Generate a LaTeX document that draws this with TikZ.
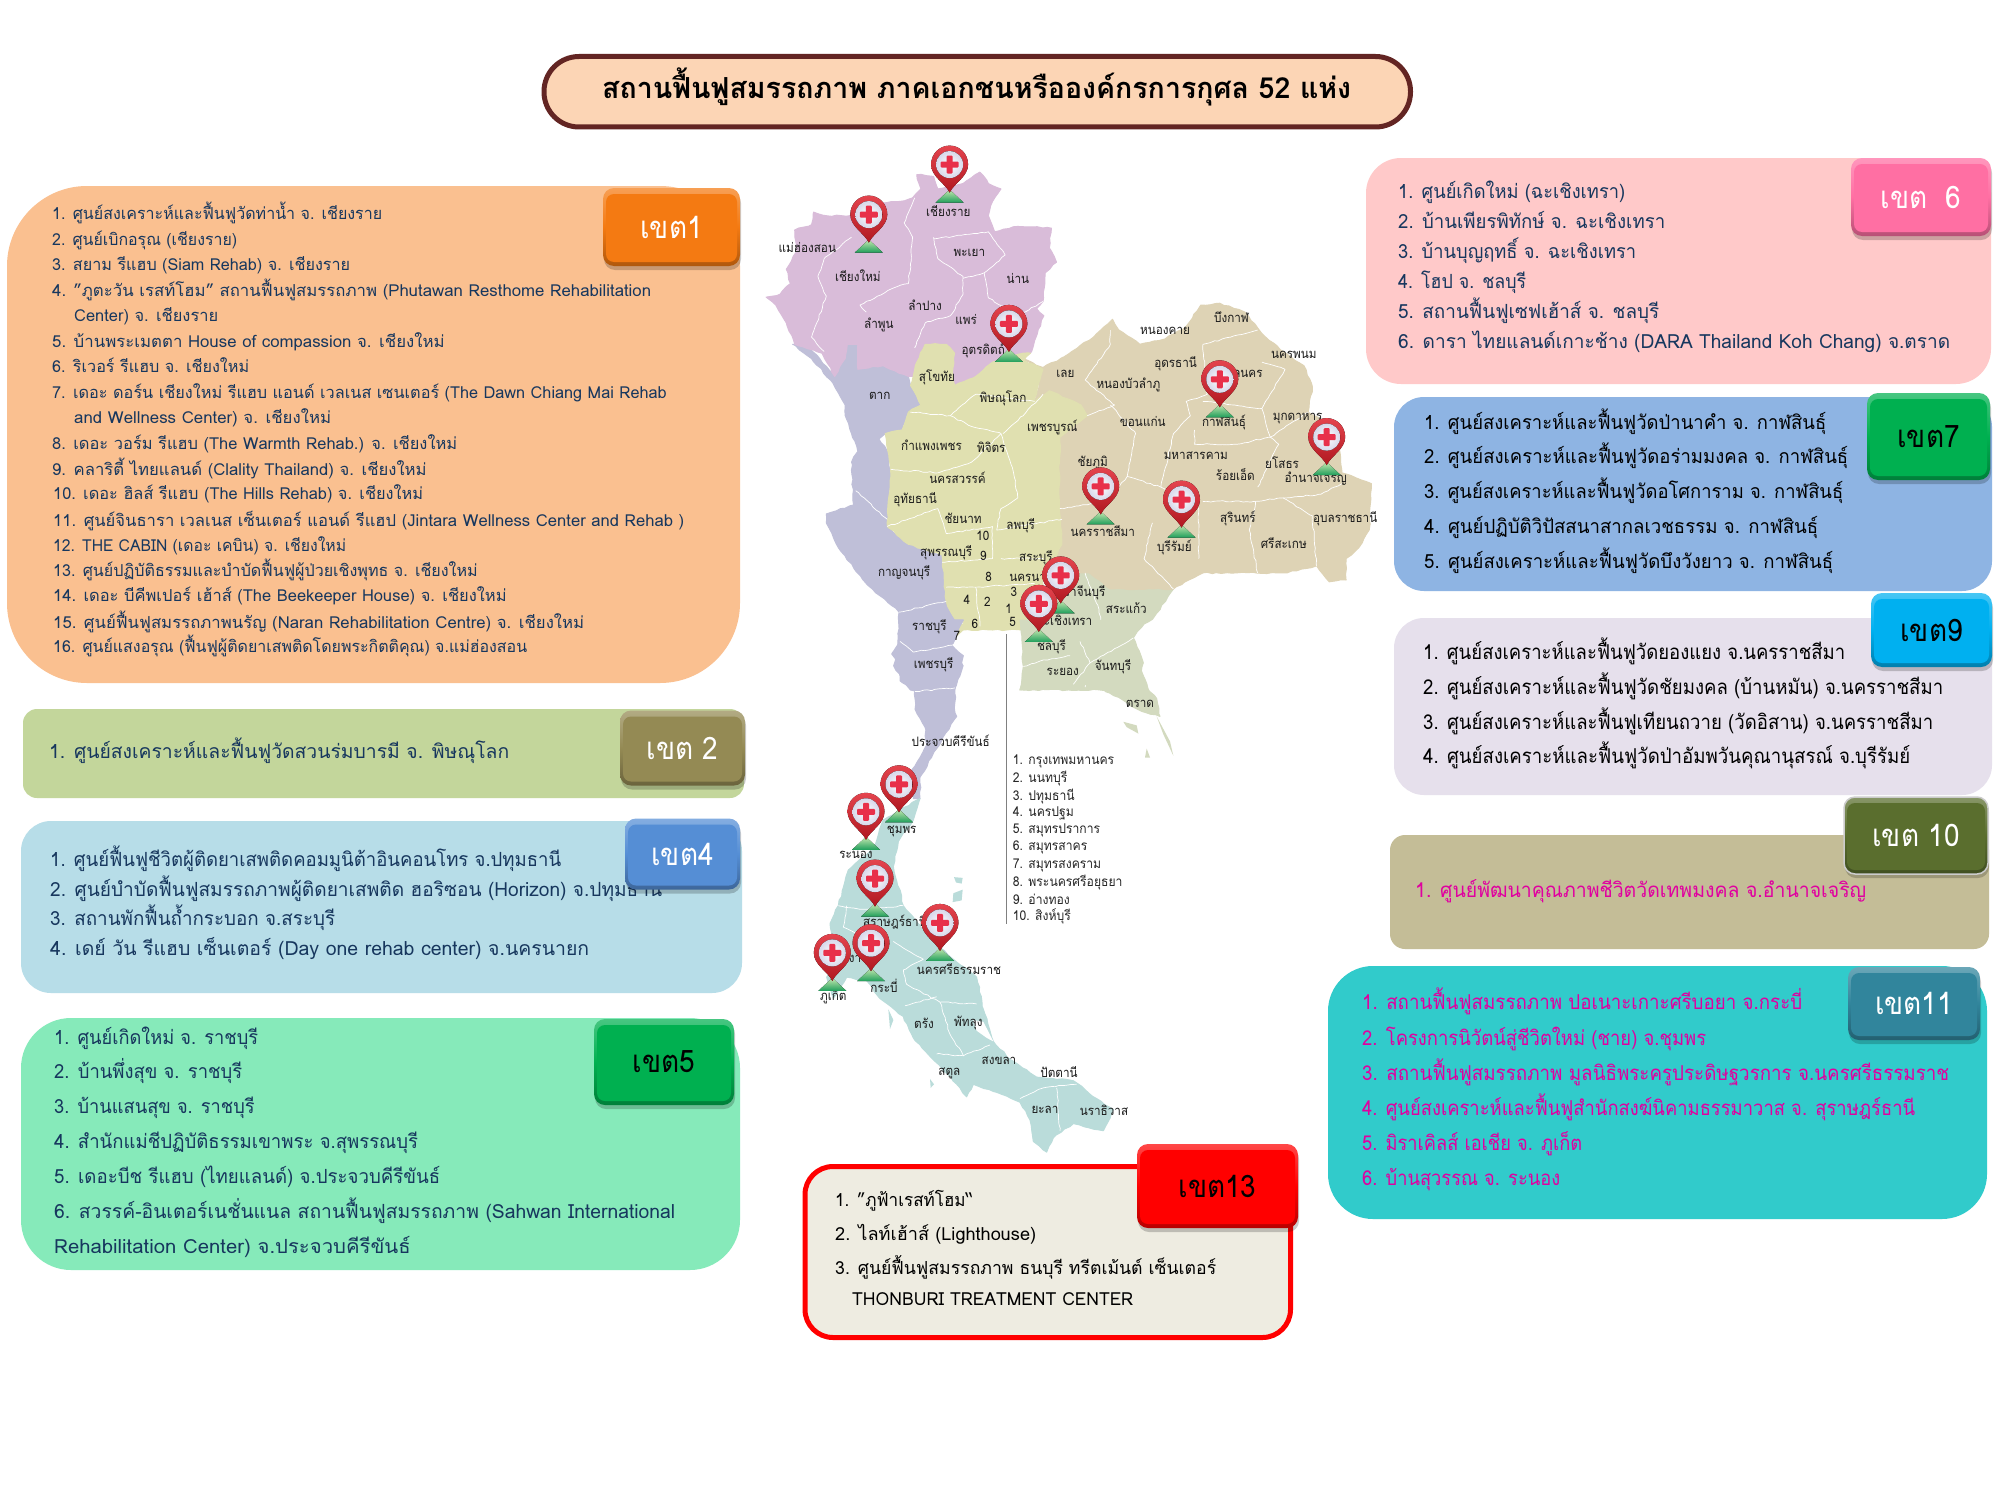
\documentclass[tikz,border=0pt]{standalone}
\usepackage{fontspec}
\usepackage{graphicx}
\setmainfont[Script=Thai,FakeStretch=0.9]{Loma}
\usetikzlibrary{calc,shadows,decorations.pathmorphing}
\definecolor{navy}{HTML}{17375E}
\definecolor{mag}{HTML}{E000A0}
\definecolor{cnorth}{HTML}{D9BCD9}
\definecolor{cwest}{HTML}{BFBFD8}
\definecolor{ccentral}{HTML}{E0E0B0}
\definecolor{cne}{HTML}{DED3B5}
\definecolor{ceast}{HTML}{D3DABF}
\definecolor{csouth}{HTML}{BADCDA}
\definecolor{bo}{HTML}{F47A12}
\definecolor{bk2}{HTML}{948A54}
\definecolor{bk4}{HTML}{558ED5}
\definecolor{bk5}{HTML}{00B050}
\definecolor{bk6}{HTML}{FF6FA3}
\definecolor{bk9}{HTML}{00B0F0}
\definecolor{bk10}{HTML}{5A6E2E}
\definecolor{bk11}{HTML}{31859C}
\definecolor{bk13}{HTML}{FF0000}
\definecolor{pinbaseL}{HTML}{C6E8B0}
\definecolor{pinbaseD}{HTML}{1E9E5A}
\definecolor{pinredL}{HTML}{E4444E}
\definecolor{pinredD}{HTML}{B01820}
\definecolor{pindisc}{HTML}{D8D8EA}
\definecolor{pincross}{HTML}{E8304A}
\newcounter{tlc}
\newsavebox\tlbox
% one text line, set from x to xend at the given y
\newcommand\txtline[5]{\stepcounter{tlc}\node[#1] (t\arabic{tlc}) at (#2,#3) {\sbox\tlbox{#5}\pgfmathsetmacro\tlr{(#4-#2)/\the\wd\tlbox}\scalebox{\tlr}[1]{\usebox\tlbox}};}
\tikzset{
 zu/.style={shift={(740,130)},x=0.42087pt,y=-0.35714pt},
 zl/.style={shift={(780,620)},x=0.33333pt,y=-0.35714pt},
 panel/.style={rounded corners=#1, inner sep=0pt, anchor=center},
 badge/.style 2 args={rounded corners=11pt, inner sep=0pt, anchor=center, font=\fontsize{31}{32}\selectfont, text=#2,
   top color=#1!72!white, bottom color=#1!72!black, middle color=#1,
   drop shadow={shadow xshift=1pt, shadow yshift=-4pt, opacity=.2, fill=black},
   path picture={\fill[#1, rounded corners=8pt] ($(path picture bounding box.north west)+(3pt,-6pt)$) rectangle ($(path picture bounding box.south east)+(-3pt,4pt)$);}},
 stit/.style={anchor=base west, inner sep=0pt, font=\fontsize{29}{30}\selectfont\bfseries, text=black},
 s17/.style={anchor=base west, inner sep=0pt, font=\fontsize{16.5}{20}\selectfont, yshift=-5.5pt, text=navy},
 s20/.style={anchor=base west, inner sep=0pt, font=\fontsize{19.5}{24}\selectfont, yshift=-6.5pt, text=navy},
 s20k/.style={s20, text=black},
 s21k/.style={s20k, font=\fontsize{20.5}{24}\selectfont},
 s21m/.style={s20, font=\fontsize{20.5}{24}\selectfont, text=mag},
 s18k/.style={s20k, font=\fontsize{18}{24}\selectfont},
 maplbl/.style={inner sep=0pt, font=\fontsize{13}{15}\selectfont, text=black!90},
 legend/.style={anchor=west, inner sep=0pt, font=\fontsize{13.5}{15}\selectfont, text=black!85},
 coast/.style={decorate, decoration={random steps, segment length=5pt, amplitude=0.8pt}, line width=1pt, line join=round},
 prov/.style={draw=white, line width=0.7pt, line join=round, decorate, decoration={random steps, segment length=4pt, amplitude=0.7pt}},
 mappin/.pic={
   \fill[top color=pinbaseL, bottom color=pinbaseD] (0,25) -- (-14,38) -- (14,38) -- cycle;
   \fill[top color=pinredL, bottom color=pinredD] (0,28) .. controls (-4,19) and (-18.5,12) .. (-18.5,0) .. controls (-18.5,-11) and (-10,-19) .. (0,-19) .. controls (10,-19) and (18.5,-11) .. (18.5,0) .. controls (18.5,12) and (4,19) .. (0,28) -- cycle;
   \fill[inner color=white, outer color=pindisc] (0,0) circle (13.5);
   \fill[pincross, rounded corners=1pt] (-9,-3) rectangle (9,3);
   \fill[pincross, rounded corners=1pt] (-3,-9) rectangle (3,9);
 }
}
\begin{document}
\begin{tikzpicture}[x=1pt,y=-1pt]
\pgfmathsetseed{7}
\useasboundingbox (0,0) rectangle (2001,1501);
\fill[white] (0,0) rectangle (2001,1501);
% ---------- map, upper part: regions and province lines
\begin{scope}[zu]
\filldraw[coast,cwest] (125,600) -- (165,610) -- (225,690) -- (250,640) -- (255,600) -- (280,600) -- (280,670) -- (340,660) -- (400,690) -- (405,715) -- (430,770) -- (400,790) -- (385,840) -- (345,850) -- (330,865) -- (350,900) -- (358,960) -- (350,1110) -- (400,1160) -- (480,1190) -- (490,1320) -- (530,1390) -- (500,1440) -- (530,1500) -- (510,1568) -- (405,1568) -- (365,1500) -- (375,1450) -- (378,1350) -- (300,1270) -- (240,1180) -- (205,1100) -- (205,1075) -- (270,1050) -- (265,930) -- (280,900) -- (265,850) -- (250,800) -- (250,770) -- (215,700) -- (170,640) -- cycle;
\filldraw[coast,cnorth] (420,125) -- (460,130) -- (470,165) -- (530,150) -- (570,118) -- (590,150) -- (620,165) -- (600,200) -- (590,240) -- (605,285) -- (660,270) -- (740,275) -- (735,330) -- (752,370) -- (725,400) -- (720,480) -- (705,500) -- (722,520) -- (700,590) -- (690,625) -- (600,650) -- (560,690) -- (510,715) -- (505,680) -- (510,625) -- (490,600) -- (440,600) -- (420,650) -- (415,690) -- (400,690) -- (340,660) -- (280,670) -- (280,600) -- (255,600) -- (250,640) -- (225,690) -- (195,625) -- (130,600) -- (110,540) -- (85,490) -- (62,468) -- (95,460) -- (120,430) -- (110,390) -- (135,340) -- (130,280) -- (170,265) -- (175,230) -- (205,240) -- (260,240) -- (300,210) -- (380,200) -- (410,190) -- (430,165) -- cycle;
\filldraw[coast,ceast] (670,1400) -- (720,1310) -- (740,1240) -- (830,1240) -- (880,1285) -- (1030,1285) -- (980,1370) -- (900,1420) -- (950,1500) -- (970,1568) -- (665,1568) -- (680,1480) -- cycle;
\filldraw[coast,cne] (672,640) -- (720,665) -- (770,635) -- (840,580) -- (885,530) -- (900,560) -- (950,600) -- (1010,585) -- (1060,550) -- (1095,490) -- (1140,485) -- (1200,510) -- (1240,570) -- (1290,620) -- (1340,660) -- (1360,720) -- (1350,790) -- (1420,840) -- (1430,960) -- (1500,990) -- (1495,1120) -- (1470,1170) -- (1440,1200) -- (1440,1260) -- (1400,1265) -- (1370,1220) -- (1300,1240) -- (1180,1240) -- (1100,1240) -- (1030,1285) -- (880,1285) -- (830,1240) -- (790,1240) -- (745,1210) -- (765,1160) -- (758,1000) -- (760,860) -- (825,800) -- (810,770) -- (735,730) -- (700,760) -- (720,670) -- cycle;
\filldraw[coast,ccentral] (440,600) -- (490,600) -- (510,625) -- (505,680) -- (510,715) -- (560,690) -- (600,650) -- (672,625) -- (690,625) -- (675,645) -- (720,670) -- (700,760) -- (735,730) -- (810,770) -- (825,800) -- (760,860) -- (758,1000) -- (765,1160) -- (745,1210) -- (720,1240) -- (720,1310) -- (670,1400) -- (600,1400) -- (530,1400) -- (490,1445) -- (520,1395) -- (490,1320) -- (480,1190) -- (400,1160) -- (350,1110) -- (358,950) -- (345,850) -- (385,840) -- (400,790) -- (430,770) -- (405,715) -- (420,650) -- cycle;
\draw[prov] (415,190) -- (390,260) -- (410,300) -- (405,375) -- (400,430) -- (370,440) -- (285,490) -- (300,510);
\draw[prov] (265,300) -- (200,360) -- (185,410) -- (205,465) -- (170,580) -- (200,620);
\draw[prov] (460,300) -- (470,360) -- (530,410) -- (530,460) -- (500,520) -- (440,540) -- (415,610);
\draw[prov] (460,305) -- (590,285) -- (630,350) -- (580,400) -- (530,415);
\draw[prov] (580,400) -- (590,470) -- (660,520) -- (720,480);
\draw[prov] (275,1010) -- (350,1090);
\draw[prov] (378,1350) -- (490,1320);
\draw[prov] (370,1450) -- (430,1440) -- (530,1380);
\draw[prov] (405,790) -- (500,800) -- (550,830) -- (620,850) -- (650,960) -- (660,1030) -- (620,1060) -- (610,1120) -- (765,1090);
\draw[prov] (500,800) -- (560,740) -- (700,760);
\draw[prov] (680,790) -- (720,740);
\draw[prov] (680,790) -- (625,850);
\draw[prov] (358,950) -- (470,960) -- (550,930) -- (620,850);
\draw[prov] (350,1110) -- (470,1060) -- (490,1130) -- (600,1110);
\draw[prov] (600,1110) -- (600,1200) -- (480,1210);
\draw[prov] (490,1280) -- (560,1280) -- (700,1270);
\draw[prov] (560,1280) -- (570,1390);
\draw[prov] (620,1200) -- (720,1200);
\draw[prov] (880,560) -- (880,600) -- (820,700) -- (890,770) -- (825,800);
\draw[prov] (880,770) -- (940,850) -- (920,970) -- (1000,1000) -- (1090,1060) -- (1090,1200);
\draw[prov] (1000,1000) -- (1030,850) -- (1070,800) -- (1060,760) -- (1110,740) -- (1100,600) -- (1230,560);
\draw[prov] (1100,760) -- (1175,770) -- (1240,780) -- (1260,860) -- (1350,790);
\draw[prov] (1240,780) -- (1295,670) -- (1240,650);
\draw[prov] (1080,840) -- (1080,880) -- (1180,880) -- (1260,860) -- (1280,880) -- (1230,1000);
\draw[prov] (1100,1040) -- (1220,1040) -- (1290,1030) -- (1380,1020) -- (1430,990);
\draw[prov] (1225,1040) -- (1210,1120) -- (1230,1240);
\draw[prov] (1290,1030) -- (1360,1080) -- (1370,1220);
\draw[prov] (760,1060) -- (870,1040) -- (920,970);
\draw[prov] (980,1100) -- (960,1200) -- (1030,1285);
\draw[prov] (820,1240) -- (850,1330) -- (870,1440) -- (830,1480) -- (820,1560);
\draw[prov] (700,1500) -- (830,1480);
\end{scope}
% ---------- map, lower part: regions and province lines
\begin{scope}[zl]
\filldraw[coast,cwest] (360,0) -- (550,0) -- (515,70) -- (550,100) -- (525,190) -- (525,260) -- (530,270) -- (470,360) -- (420,440) -- (420,500) -- (400,500) -- (395,420) -- (440,350) -- (435,300) -- (405,250) -- (405,200) -- (360,170) -- (355,120) -- (335,95) -- (360,60) -- cycle;
\filldraw[coast,ceast] (720,0) -- (1100,0) -- (1060,50) -- (1090,120) -- (1080,170) -- (1130,220) -- (1140,270) -- (1100,260) -- (1050,240) -- (1030,225) -- (940,180) -- (820,190) -- (720,195) -- (730,130) -- cycle;
\fill[ceast] (1030,285) -- (1070,295) -- (1075,318) -- (1040,300) -- cycle;
\fill[ceast] (1130,270) -- (1170,340) -- (1180,380) -- (1150,320) -- cycle;
\fill[ceast] (1100,360) -- (1110,385) -- (1095,385) -- cycle;
\filldraw[coast,csouth] (420,500) -- (400,560) -- (355,620) -- (340,690) -- (370,800) -- (430,870) -- (520,950) -- (590,1000) -- (610,1090) -- (640,1180) -- (690,1230) -- (770,1280) -- (880,1290) -- (950,1340) -- (1000,1370) -- (970,1430) -- (880,1410) -- (820,1450) -- (800,1490) -- (760,1460) -- (750,1400) -- (720,1350) -- (640,1320) -- (580,1300) -- (560,1335) -- (540,1310) -- (470,1240) -- (400,1170) -- (370,1110) -- (300,1060) -- (260,1010) -- (200,1000) -- (160,1060) -- (140,1000) -- (170,960) -- (150,850) -- (175,800) -- (205,700) -- (280,640) -- (310,560) -- cycle;
\fill[white] (580,1120) -- (610,1125) -- (640,1180) -- (620,1170) -- (590,1150) -- cycle;
\fill[csouth] (522,720) -- (548,722) -- (545,738) -- (528,735) -- cycle;
\fill[csouth] (520,765) -- (548,755) -- (545,785) -- (518,790) -- cycle;
\fill[csouth] (325,1090) -- (340,1120) -- (330,1145) -- cycle;
\fill[csouth] (450,1285) -- (462,1300) -- (452,1310) -- cycle;
\draw[prov] (175,800) -- (240,810) -- (370,800);
\draw[prov] (200,800) -- (190,860) -- (240,880);
\draw[prov] (340,900) -- (430,950) -- (370,980) -- (380,1020) -- (480,1070) -- (590,1075);
\draw[prov] (375,1080) -- (470,1055);
\draw[prov] (480,1070) -- (510,1160) -- (550,1220) -- (630,1190);
\draw[prov] (550,1220) -- (470,1215);
\draw[prov] (720,1340) -- (790,1310) -- (890,1300);
\draw[prov] (830,1310) -- (840,1430);
\draw[prov] (360,60) -- (400,90) -- (520,70);
\draw[prov] (405,200) -- (525,190);
\draw[prov] (730,130) -- (780,115) -- (870,100);
\draw[prov] (880,180) -- (930,120) -- (900,60);
\draw[prov] (930,120) -- (1060,50);
\end{scope}
% ---------- map labels
\begin{scope}[zu]
\foreach \x/\y/\t in {495/227/เชียงราย,160/330/แม่ฮ่องสอน,280/408/เชียงใหม่,545/345/พะเยา,660/415/น่าน,440/490/ลำปาง,537/530/แพร่,330/545/ลำพูน,578/617/อุตรดิตถ์,468/692/สุโขทัย,332/745/ตาก,625/750/พิษณุโลก,773/682/เลย,1010/563/หนองคาย,1168/525/บึงกาฬ,1035/655/อุดรธานี,923/714/หนองบัวลำภู,1190/683/สกลนคร,1316/630/นครพนม,957/817/ขอนแก่น,1150/820/กาฬสินธุ์,1325/808/มุกดาหาร,742/832/เพชรบูรณ์,455/882/กำแพงเพชร,597/888/พิจิตร,1083/913/มหาสารคาม,838/932/ชัยภูมิ,1288/932/ยโสธร,1177/966/ร้อยเอ็ด,1368/977/อำนาจเจริญ,517/975/นครสวรรค์,416/1035/อุทัยธานี,530/1088/ชัยนาท,667/1107/ลพบุรี,1183/1088/สุรินทร์,1438/1088/อุบลราชธานี,862/1122/นครราชสีมา,577/1136/10,1292/1157/ศรีสะเกษ,1032/1170/บุรีรัมย์,490/1183/สุพรรณบุรี,578/1192/9,703/1198/สระบุรี,390/1240/กาญจนบุรี,591/1250/8,700/1255/นครนายก,651/1292/3,810/1295/ปราจีนบุรี,539/1316/4,588/1320/2,918/1338/สระแก้ว,638/1342/1,770/1373/ฉะเชิงเทรา,648/1378/5,558/1384/6,450/1390/ราชบุรี,515/1416/7,740/1447/ชลบุรี,460/1497/เพชรบุรี,767/1518/ระยอง,886/1503/จันทบุรี}
  {\node[maplbl] (m\x-\y) at (\x,\y) {\t};}
\end{scope}
\begin{scope}[zl]
\foreach \x/\y/\t in {1080/236/ตราด,512/337/ประจวบคีรีขันธ์,365/593/ชุมพร,228/657/ระนอง,345/847/สุราษฎร์ธานี,537/977/นครศรีธรรมราช,205/945/พังงา,160/1052/ภูเก็ต,312/1025/กระบี่,432/1128/ตรัง,565/1128/พัทลุง,657/1235/สงขลา,508/1268/สตูล,837/1265/ปัตตานี,795/1373/ยะลา,972/1373/นราธิวาส}
  {\node[maplbl] (n\x-\y) at (\x,\y) {\t};}
\coordinate (vt) at (680,40);
\coordinate (vb) at (680,852);
\draw[black!50, line width=0.8pt] (vt) -- (vb);
\foreach \y/\t in {397/1. กรุงเทพมหานคร,445/2. นนทบุรี,493/3. ปทุมธานี,542/4. นครปฐม,590/5. สมุทรปราการ,638/6. สมุทรสาคร,687/7. สมุทรสงคราม,735/8. พระนครศรีอยุธยา,783/9. อ่างทอง,831/10. สิงห์บุรี}
  {\node[legend] (l\y) at (698,\y) {\t};}
\end{scope}
% ---------- pins
\foreach \x/\y in {949.6/164.6,868.8/214.6,1008.9/323.9,1219.8/379.3,1326.7/437.1,1100.7/486.4,1181.5/499.6,1060.7/575.4,1038.8/603.9,899/784.3,866/811.8,875/878.6,940/922.9,871/943.2,832.3/952.9}
  {\pic at (\x,\y) {mappin};}
% ---------- title
\node[panel=35pt, draw={rgb,255:red,99;green,37;blue,35}, line width=5pt, fill={rgb,255:red,252;green,213;blue,181}, minimum width=866.5pt, minimum height=70.5pt] (title) at (977.25,91.75) {};
\txtline{stit}{602}{99}{1351}{สถานฟื้นฟูสมรรถภาพ ภาคเอกชนหรือองค์กรการกุศล 52 แห่ง}
% ---------- region 1
\node[panel=80pt, fill={rgb,255:red,250;green,192;blue,144}, minimum width=733pt, minimum height=497pt] (p1) at (373.5,434.5) {};
\txtline{s17}{52}{214}{382}{1. ศูนย์สงเคราะห์และฟื้นฟูวัดท่าน้ำ  จ. เชียงราย}
\txtline{s17}{52}{240}{237}{2. ศูนย์เบิกอรุณ (เชียงราย)}
\txtline{s17}{52}{265}{350}{3. สยาม รีแฮบ (Siam Rehab) จ. เชียงราย}
\txtline{s17}{52}{291}{651}{4. "ภูตะวัน เรสท์โฮม" สถานฟื้นฟูสมรรถภาพ (Phutawan Resthome Rehabilitation}
\txtline{s17}{74}{316}{218}{Center) จ. เชียงราย}
\txtline{s17}{52}{342}{444.5}{5. บ้านพระเมตตา House of compassion  จ. เชียงใหม่}
\txtline{s17}{52}{367}{249}{6. ริเวอร์ รีแฮบ  จ. เชียงใหม่}
\txtline{s17}{52}{393}{666.5}{7. เดอะ ดอร์น เชียงใหม่ รีแฮบ แอนด์ เวลเนส เซนเตอร์ (The Dawn Chiang Mai Rehab}
\txtline{s17}{74}{418}{331}{and Wellness Center) จ. เชียงใหม่}
\txtline{s17}{52}{444}{457}{8. เดอะ วอร์ม รีแฮบ (The Warmth Rehab.) จ. เชียงใหม่}
\txtline{s17}{52}{470}{426.5}{9. คลาริตี้  ไทยแลนด์ (Clality Thailand) จ. เชียงใหม่}
\txtline{s17}{53}{494}{423}{10. เดอะ ฮิลส์ รีแฮบ (The Hills Rehab) จ. เชียงใหม่}
\txtline{s17}{53}{521}{684}{11. ศูนย์จินธารา เวลเนส เซ็นเตอร์ แอนด์ รีแฮป (Jintara Wellness  Center and Rehab )}
\txtline{s17}{53}{546}{346}{12. THE CABIN (เดอะ เคบิน) จ. เชียงใหม่}
\txtline{s17}{53}{571}{477.5}{13. ศูนย์ปฏิบัติธรรมและบำบัดฟื้นฟูผู้ป่วยเชิงพุทธ จ. เชียงใหม่}
\txtline{s17}{53}{596}{506.5}{14. เดอะ บีคีพเปอร์ เฮ้าส์ (The Beekeeper House) จ. เชียงใหม่}
\txtline{s17}{53}{623}{584}{15. ศูนย์ฟื้นฟูสมรรถภาพนรัญ (Naran Rehabilitation Centre) จ. เชียงใหม่}
\txtline{s17}{53}{647}{527}{16. ศูนย์แสงอรุณ (ฟื้นฟูผู้ติดยาเสพติดโดยพระกิตติคุณ) จ.แม่ฮ่องสอน}
\node[badge={bo}{white}, minimum width=137pt, minimum height=78pt] (b1) at (671.5,227) {เขต1};
% ---------- region 2
\node[panel=14pt, fill={rgb,255:red,195;green,214;blue,155}, minimum width=721pt, minimum height=89pt] (p2) at (383.5,753.5) {};
\txtline{s20}{49}{752}{509}{1. ศูนย์สงเคราะห์และฟื้นฟูวัดสวนร่มบารมี จ. พิษณุโลก}
\node[badge={bk2}{white}, minimum width=125pt, minimum height=75pt] (b2) at (682.5,748) {เขต 2};
% ---------- region 4
\node[panel=30pt, fill={rgb,255:red,183;green,221;blue,232}, minimum width=721pt, minimum height=172pt] (p4) at (381.5,907) {};
\txtline{s20}{50}{860}{561}{1. ศูนย์ฟื้นฟูชีวิตผู้ติดยาเสพติดคอมมูนิต้าอินคอนโทร จ.ปทุมธานี}
\txtline{s20}{50}{890}{662}{2. ศูนย์บำบัดฟื้นฟูสมรรถภาพผู้ติดยาเสพติด ฮอริซอน (Horizon) จ.ปทุมธานี}
\txtline{s20}{50}{919}{335}{3. สถานพักฟื้นถ้ำกระบอก จ.สระบุรี}
\txtline{s20}{50}{949}{589}{4. เดย์ วัน รีแฮบ เซ็นเตอร์ (Day one rehab center) จ.นครนายก}
\node[badge={bk4}{white}, minimum width=115pt, minimum height=71pt] (b4) at (682.5,854) {เขต4};
% ---------- region 5
\node[panel=50pt, fill={rgb,255:red,134;green,234;blue,186}, minimum width=719pt, minimum height=252pt] (p5) at (380.5,1144) {};
\txtline{s20}{54}{1038}{258}{1. ศูนย์เกิดใหม่ จ. ราชบุรี}
\txtline{s20}{54}{1072}{242}{2. บ้านพึ่งสุข จ. ราชบุรี}
\txtline{s20}{54}{1107}{254.5}{3. บ้านแสนสุข จ. ราชบุรี}
\txtline{s20}{54}{1142}{418}{4. สำนักแม่ชีปฏิบัติธรรมเขาพระ จ.สุพรรณบุรี}
\txtline{s20}{54}{1177}{440}{5. เดอะบีช รีแฮบ (ไทยแลนด์) จ.ประจวบคีรีขันธ์}
\txtline{s20}{54}{1212}{675}{6. สวรรค์-อินเตอร์เนชั่นแนล สถานฟื้นฟูสมรรถภาพ (Sahwan International}
\txtline{s20}{54}{1247}{410.5}{Rehabilitation Center) จ.ประจวบคีรีขันธ์}
\node[badge={bk5}{black}, minimum width=140pt, minimum height=86pt] (b5) at (664,1062) {เขต5};
% ---------- region 13
\node[panel=28pt, draw=red, line width=5pt, fill={rgb,255:red,238;green,236;blue,225}, minimum width=485.5pt, minimum height=171pt] (p13) at (1047.75,1252) {};
\txtline{s18k}{835}{1200}{973}{1. "ภูฟ้าเรสท์โฮม‘‘}
\txtline{s18k}{835}{1234}{1036}{2. ไลท์เฮ้าส์ (Lighthouse)}
\txtline{s18k}{835}{1268}{1216}{3. ศูนย์ฟื้นฟูสมรรถภาพ ธนบุรี ทรีตเม้นต์ เซ็นเตอร์}
\txtline{s18k}{852}{1299}{1133}{THONBURI TREATMENT CENTER}
\node[badge={bk13}{black}, minimum width=161pt, minimum height=84pt] (b13) at (1217.5,1186) {เขต13};
% ---------- region 6
\node[panel=35pt, fill={rgb,255:red,255;green,201;blue,201}, minimum width=625pt, minimum height=226pt] (p6) at (1678.5,271) {};
\txtline{s20}{1398}{192}{1625}{1. ศูนย์เกิดใหม่ (ฉะเชิงเทรา)}
\txtline{s20}{1398}{222}{1665}{2. บ้านเพียรพิทักษ์ จ. ฉะเชิงเทรา}
\txtline{s20}{1398}{252}{1636}{3. บ้านบุญฤทธิ์ จ. ฉะเชิงเทรา}
\txtline{s20}{1398}{282}{1526}{4. โฮป จ. ชลบุรี}
\txtline{s20}{1398}{312}{1659}{5. สถานฟื้นฟูเซฟเฮ้าส์  จ. ชลบุรี}
\txtline{s20}{1398}{342}{1950}{6. ดารา ไทยแลนด์เกาะช้าง (DARA Thailand Koh Chang) จ.ตราด}
\node[badge={bk6}{white}, minimum width=140pt, minimum height=78pt] (b6) at (1921,197) {เขต\hspace{9pt} 6};
% ---------- region 7
\node[panel=30pt, fill={rgb,255:red,142;green,180;blue,227}, minimum width=598pt, minimum height=194pt] (p7) at (1693,494) {};
\txtline{s20k}{1424}{423}{1826}{1. ศูนย์สงเคราะห์และฟื้นฟูวัดป่านาคำ จ. กาฬสินธุ์}
\txtline{s20k}{1424}{457}{1848}{2. ศูนย์สงเคราะห์และฟื้นฟูวัดอร่ามมงคล จ. กาฬสินธุ์}
\txtline{s20k}{1424}{492}{1843}{3. ศูนย์สงเคราะห์และฟื้นฟูวัดอโศการาม จ. กาฬสินธุ์}
\txtline{s20k}{1424}{527}{1818}{4. ศูนย์ปฏิบัติวิปัสสนาสากลเวชธรรม จ. กาฬสินธุ์}
\txtline{s20k}{1424}{562}{1833}{5. ศูนย์สงเคราะห์และฟื้นฟูวัดบึงวังยาว จ. กาฬสินธุ์}
\node[badge={bk5}{black}, minimum width=123pt, minimum height=87pt] (b7) at (1928.5,436.5) {เขต7};
% ---------- region 9
\node[panel=30pt, fill={rgb,255:red,230;green,224;blue,236}, minimum width=598pt, minimum height=177pt] (p9) at (1693,706.5) {};
\txtline{s21k}{1423}{653}{1845}{1. ศูนย์สงเคราะห์และฟื้นฟูวัดยองแยง จ.นครราชสีมา}
\txtline{s21k}{1423}{688}{1943}{2. ศูนย์สงเคราะห์และฟื้นฟูวัดชัยมงคล (บ้านหมัน) จ.นครราชสีมา}
\txtline{s21k}{1423}{723}{1933}{3. ศูนย์สงเคราะห์และฟื้นฟูเทียนถวาย (วัดอิสาน) จ.นครราชสีมา}
\txtline{s21k}{1423}{757}{1910}{4. ศูนย์สงเคราะห์และฟื้นฟูวัดป่าอัมพวันคุณานุสรณ์ จ.บุรีรัมย์}
\node[badge={bk9}{black}, minimum width=121pt, minimum height=74pt] (b9) at (1931.5,630) {เขต9};
% ---------- region 10
\node[panel=15pt, fill={rgb,255:red,196;green,189;blue,151}, minimum width=599pt, minimum height=114pt] (p10) at (1689.5,892) {};
\txtline{s21m}{1415}{891}{1866}{1. ศูนย์พัฒนาคุณภาพชีวิตวัดเทพมงคล จ.อำนาจเจริญ}
\node[badge={bk10}{white}, draw=black!20, line width=1.5pt, minimum width=144pt, minimum height=77pt] (b10) at (1916,835.5) {เขต 10};
% ---------- region 11
\node[panel=45pt, fill={rgb,255:red,49;green,203;blue,203}, minimum width=659pt, minimum height=253pt] (p11) at (1657.5,1092.5) {};
\txtline{s21m}{1362}{1003}{1802}{1. สถานฟื้นฟูสมรรถภาพ ปอเนาะเกาะศรีบอยา จ.กระบี่}
\txtline{s21m}{1362}{1039}{1706}{2. โครงการนิวัตน์สู่ชีวิตใหม่ (ชาย) จ.ชุมพร}
\txtline{s21m}{1362}{1074}{1949}{3. สถานฟื้นฟูสมรรถภาพ  มูลนิธิพระครูประดิษฐวรการ จ.นครศรีธรรมราช}
\txtline{s21m}{1362}{1109}{1915}{4. ศูนย์สงเคราะห์และฟื้นฟูสำนักสงฆ์นิคามธรรมาวาส จ. สุราษฎร์ธานี}
\txtline{s21m}{1362}{1144}{1582}{5. มิราเคิลส์ เอเชีย จ. ภูเก็ต}
\txtline{s21m}{1362}{1179}{1560}{6. บ้านสุวรรณ จ. ระนอง}
\node[badge={bk11}{white}, minimum width=132pt, minimum height=73pt] (b11) at (1914,1003.5) {เขต11};
\end{tikzpicture}
\end{document}
